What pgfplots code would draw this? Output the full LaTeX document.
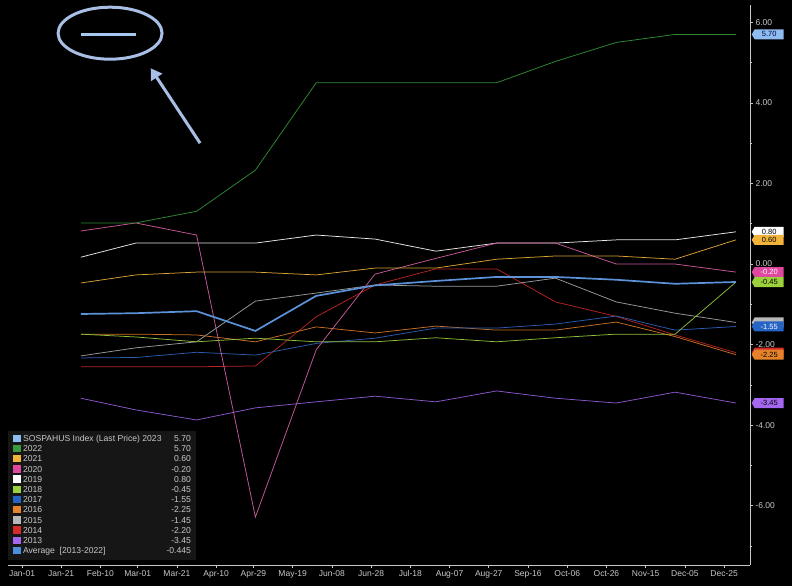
\documentclass[border=0pt]{standalone}
\usepackage{pgfplots}
\pgfplotsset{compat=1.18}
\usepackage{fontspec}
\setmainfont{Liberation Sans}
\usetikzlibrary{shapes.symbols,arrows.meta}
\definecolor{cs23}{HTML}{A4C8F0}
\definecolor{c22}{HTML}{2F8A34}
\definecolor{c21}{HTML}{D9A232}
\definecolor{c20}{HTML}{C8589A}
\definecolor{c19}{HTML}{E8E8E8}
\definecolor{c18}{HTML}{8CC03A}
\definecolor{c17}{HTML}{2A5CB0}
\definecolor{c16}{HTML}{C87024}
\definecolor{c15}{HTML}{9A9A9A}
\definecolor{c14}{HTML}{B82222}
\definecolor{c13}{HTML}{8A58CC}
\definecolor{cavg}{HTML}{5B92DA}
\definecolor{l23}{HTML}{8FBCEF}
\definecolor{l22}{HTML}{3B9A3B}
\definecolor{l21}{HTML}{F2B33A}
\definecolor{l20}{HTML}{E0479F}
\definecolor{l19}{HTML}{FFFFFF}
\definecolor{l18}{HTML}{9BD13A}
\definecolor{l17}{HTML}{2563C4}
\definecolor{l16}{HTML}{E5832A}
\definecolor{l15}{HTML}{B8B8B8}
\definecolor{l14}{HTML}{D42A2A}
\definecolor{l13}{HTML}{A468F0}
\definecolor{lavg}{HTML}{4B8FDF}
\definecolor{annot}{HTML}{A9BEE4}
\definecolor{legbg}{HTML}{161616}
\definecolor{ticktxt}{HTML}{C8C8C8}
\pgfplotstableread{
x y22 y21 y20 y19 y18 y17 y16 y15 y14 y13 yavg
30 1.02 -0.47 0.82 0.17 -1.74 -2.33 -1.74 -2.28 -2.55 -3.33 -1.24
58 1.02 -0.27 1.02 0.52 -1.81 -2.32 -1.74 -2.08 -2.55 -3.62 -1.22
89 1.31 -0.20 0.72 0.52 -1.93 -2.19 -1.76 -1.93 -2.55 -3.87 -1.17
119 2.33 -0.20 -6.28 0.52 -1.84 -2.26 -1.93 -0.92 -2.53 -3.57 -1.66
150 4.50 -0.27 -2.13 0.72 -1.93 -1.97 -1.56 -0.72 -1.31 -3.42 -0.79
180 4.50 -0.10 -0.25 0.62 -1.93 -1.84 -1.71 -0.52 -0.52 -3.28 -0.53
211 4.50 -0.10 0.14 0.32 -1.83 -1.59 -1.54 -0.55 -0.12 -3.42 -0.42
242 4.50 0.12 0.52 0.52 -1.93 -1.59 -1.64 -0.55 -0.12 -3.15 -0.32
272 5.03 0.20 0.52 0.52 -1.83 -1.49 -1.64 -0.35 -0.94 -3.33 -0.32
303 5.50 0.20 0.00 0.60 -1.74 -1.29 -1.44 -0.94 -1.30 -3.45 -0.39
333 5.70 0.12 0.00 0.60 -1.74 -1.64 -1.80 -1.22 -1.76 -3.18 -0.49
364 5.70 0.60 -0.20 0.80 -0.45 -1.55 -2.25 -1.45 -2.20 -3.45 -0.445
}\datatab
\pgfplotstableread{
x y
30 5.70
58 5.70
}\sostab
\tikzset{tag/.style={signal, signal to=west, signal pointer angle=120, minimum height=10pt, minimum width=32pt, inner sep=0.8pt, anchor=west, font=\fontsize{7.5}{7.5}\selectfont}}
\begin{document}
\begin{tikzpicture}
\fill[black] (-8pt,-21pt) rectangle (784pt,565pt);
\begin{axis}[
  at={(0pt,0pt)}, anchor=south west,
  scale only axis, width=742pt, height=560pt,
  xmin=-7.14, xmax=371.2, ymin=-7.47, ymax=6.43,
  clip=false,
  axis x line*=bottom, axis y line*=right,
  axis line style={draw=ticktxt, line width=0.8pt},
  tick align=outside,
  major tick length=3pt, minor tick length=2pt,
  tick style={draw=ticktxt, line width=0.6pt},
  xtick={0,20,40,59,79,99,118,138,158,178,198,218,238,258,278,298,318,338,358},
  xticklabels={Jan-01,Jan-21,Feb-10,Mar-01,Mar-21,Apr-10,Apr-29,May-19,Jun-08,Jun-28,Jul-18,Aug-07,Aug-27,Sep-16,Oct-06,Oct-26,Nov-15,Dec-05,Dec-25},
  ytick={-6,-4,-2,0,2,4,6},
  minor ytick={-7,-5,-3,-1,1,3,5},
  yticklabel pos=right,
  /pgf/number format/assume math mode=true,
  /pgf/number format/.cd, fixed, fixed zerofill, precision=2, /pgfplots/.cd,
  ticklabel style={font=\fontsize{8.5}{10}\selectfont, text=ticktxt},
  xticklabel style={yshift=1pt},
  yticklabel style={xshift=-1pt},
  every axis plot/.append style={line width=0.75pt},
]
\addplot[c13] table[x=x,y=y13] {\datatab};
\addplot[c14] table[x=x,y=y14] {\datatab};
\addplot[c15] table[x=x,y=y15] {\datatab};
\addplot[c16] table[x=x,y=y16] {\datatab};
\addplot[c17] table[x=x,y=y17] {\datatab};
\addplot[c18] table[x=x,y=y18] {\datatab};
\addplot[c19] table[x=x,y=y19] {\datatab};
\addplot[c20] table[x=x,y=y20] {\datatab};
\addplot[c21] table[x=x,y=y21] {\datatab};
\addplot[c22] table[x=x,y=y22] {\datatab};
\addplot[cavg, line width=1.7pt] table[x=x,y=y] {\sostab};
\addplot[cavg, line width=1.7pt] table[x=x,y=yavg] {\datatab};
\addplot[cs23, line width=2.2pt] table[x=x,y=y] {\sostab};

% annotation
\draw[annot, line width=3pt] (axis cs:44.9,5.73) ellipse [x radius=52pt, y radius=26pt];
\draw[annot, line width=3pt, -{Triangle[length=11pt,width=13pt]}] (axis cs:90.8,3.0) -- (axis cs:65.6,4.86);

% right-side value tags (hidden ones drawn first, without text as in the reference)
\node[tag, fill=l15] at (axis cs:371.2,-1.45) [xshift=1.5pt] {\phantom{-1.45}};
\node[tag, fill=l14] at (axis cs:371.2,-2.20) [xshift=1.5pt] {\phantom{-2.20}};
\node[tag, fill=l23, text=black!70!blue] at (axis cs:371.2,5.70) [xshift=1.5pt] {5.70};
\node[tag, fill=l19, text=black] at (axis cs:371.2,0.80) [xshift=1.5pt] {0.80};
\node[tag, fill=l21, text=black] at (axis cs:371.2,0.60) [xshift=1.5pt] {0.60};
\node[tag, fill=l20, text=white] at (axis cs:371.2,-0.20) [xshift=1.5pt] {-0.20};
\node[tag, fill=l18, text=black] at (axis cs:371.2,-0.45) [xshift=1.5pt] {-0.45};
\node[tag, fill=l17, text=white] at (axis cs:371.2,-1.55) [xshift=1.5pt] {-1.55};
\node[tag, fill=l16, text=black] at (axis cs:371.2,-2.25) [xshift=1.5pt] {-2.25};
\node[tag, fill=l13, text=black] at (axis cs:371.2,-3.45) [xshift=1.5pt] {-3.45};

% legend
\node[anchor=south west, fill=legbg, inner xsep=5pt, inner ysep=3pt, text=ticktxt, font=\fontsize{8.6}{10.2}\selectfont] at (rel axis cs:0,0) [yshift=5pt] {%
\begin{tabular}{@{}l@{\hspace{5pt}}r@{}}
\textcolor{l23}{\rule[-0.5pt]{7.5pt}{7.5pt}} SOSPAHUS Index (Last Price) 2023 & 5.70\\
\textcolor{l22}{\rule[-0.5pt]{7.5pt}{7.5pt}} 2022 & 5.70\\
\textcolor{l21}{\rule[-0.5pt]{7.5pt}{7.5pt}} 2021 & 0.60\\
\textcolor{l20}{\rule[-0.5pt]{7.5pt}{7.5pt}} 2020 & -0.20\\
\textcolor{l19}{\rule[-0.5pt]{7.5pt}{7.5pt}} 2019 & 0.80\\
\textcolor{l18}{\rule[-0.5pt]{7.5pt}{7.5pt}} 2018 & -0.45\\
\textcolor{l17}{\rule[-0.5pt]{7.5pt}{7.5pt}} 2017 & -1.55\\
\textcolor{l16}{\rule[-0.5pt]{7.5pt}{7.5pt}} 2016 & -2.25\\
\textcolor{l15}{\rule[-0.5pt]{7.5pt}{7.5pt}} 2015 & -1.45\\
\textcolor{l14}{\rule[-0.5pt]{7.5pt}{7.5pt}} 2014 & -2.20\\
\textcolor{l13}{\rule[-0.5pt]{7.5pt}{7.5pt}} 2013 & -3.45\\
\textcolor{lavg}{\rule[-0.5pt]{7.5pt}{7.5pt}} Average\ \ [2013-2022] & -0.445
\end{tabular}};
\end{axis}
\path[use as bounding box] (-8pt,-21pt) rectangle (784pt,565pt);
\end{tikzpicture}
\end{document}
